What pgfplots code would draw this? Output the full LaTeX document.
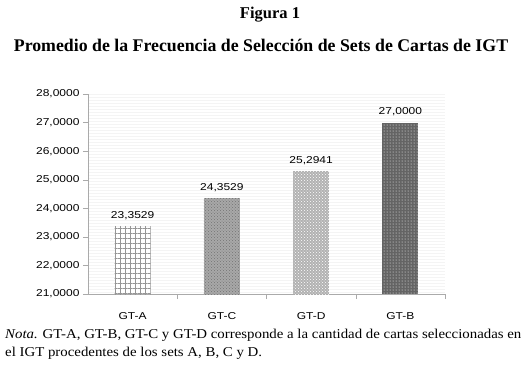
\documentclass[border=0pt]{standalone}
\usepackage{fontspec}
\usepackage{pgfplots}
\pgfplotsset{compat=1.18}
\usetikzlibrary{patterns,patterns.meta}
\setmainfont{Liberation Serif}
\newfontfamily\notefont[FakeStretch=1.1]{Liberation Serif}
\newfontfamily\axisfont[FakeStretch=1.2]{Liberation Sans}
\definecolor{axc}{RGB}{170,170,170}
\definecolor{barA}{RGB}{150,150,150}
\definecolor{barC}{RGB}{168,168,168}
\definecolor{barCp}{RGB}{115,115,115}
\definecolor{barD}{RGB}{178,178,178}
\definecolor{barB}{RGB}{100,100,100}
\begin{document}
\begin{tikzpicture}
\useasboundingbox (-88pt,-74pt) rectangle (434pt,294pt);
\begin{axis}[
  at={(0pt,0pt)}, anchor=south west,
  scale only axis, width=357pt, height=200pt,
  xmin=-0.5, xmax=3.5, ymin=21, ymax=28,
  ytick={21,22,...,28},
  xtick={0,1,2,3}, xticklabels={GT-A,GT-C,GT-D,GT-B},
  minor xtick={0.5,1.5,2.5,3.5},
  axis x line=bottom, axis y line=left,
  axis line style={draw=axc, -},
  tick align=outside,
  major tick length=5pt, minor tick length=5pt,
  major x tick style={draw=none},
  minor x tick style={draw=axc},
  ytick style={draw=axc},
  tick label style={font=\axisfont\fontsize{10}{12}\selectfont, text=black},
  xticklabel style={yshift=-10pt},
  axis background/.style={pattern=horizontal lines, pattern color=gray!9},
  /pgf/number format/.cd, fixed, fixed zerofill, precision=4, use comma, assume math mode=true,
  /pgfplots/.cd,
  ybar, bar width=36pt, bar shift=0pt,
  nodes near coords,
  every node near coord/.append style={font=\axisfont\fontsize{10}{12}\selectfont, text=black, yshift=3pt},
]
\addplot[draw=none, fill=white,
  postaction={pattern={Lines[distance=5pt,angle=0,line width=1pt]}, pattern color=barA},
  postaction={pattern={Lines[distance=5pt,angle=90,line width=1pt]}, pattern color=barA}]
  coordinates {(0,23.3529)};
\addplot[draw=none, fill=barC,
  postaction={pattern=crosshatch dots, pattern color=barCp}]
  coordinates {(1,24.3529)};
\addplot[draw=none, fill=barD,
  postaction={pattern=crosshatch dots, pattern color=white}]
  coordinates {(2,25.2941)};
\addplot[draw=none, fill=barB,
  postaction={pattern=dots, pattern color=white}]
  coordinates {(3,27.0000)};
\end{axis}
\node[font=\bfseries\fontsize{16.5}{19}\selectfont] at (182pt,279pt) {Figura 1};
\node[font=\bfseries\fontsize{17.8}{20}\selectfont] at (173pt,249pt) {Promedio de la Frecuencia de Selección de Sets de Cartas de IGT};
\node[anchor=west, inner sep=0pt, font=\notefont\fontsize{13.5}{15}\selectfont] at (-83pt,-41pt) {\textit{Nota.} GT-A, GT-B, GT-C y GT-D corresponde a la cantidad de cartas seleccionadas en};
\node[anchor=west, inner sep=0pt, font=\notefont\fontsize{13.5}{15}\selectfont] at (-83pt,-59pt) {el IGT procedentes de los sets A, B, C y D.};
\end{tikzpicture}
\end{document}
